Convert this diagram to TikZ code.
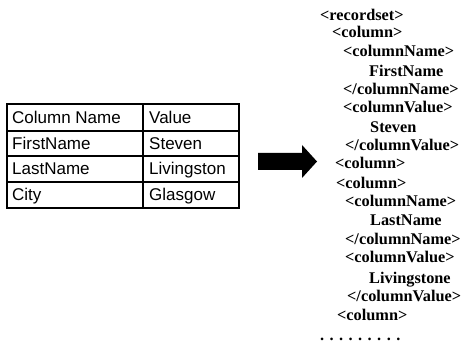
\documentclass[tikz,border=0pt]{standalone}
\usepackage{fontspec}
\setmainfont{Liberation Serif}
\newfontfamily\tabfont{Liberation Sans}
\begin{document}
\begin{tikzpicture}[x=1pt,y=1pt,
  cell/.style={anchor=base west,inner sep=0pt,font=\tabfont\fontsize{17}{17}\selectfont},
  xml/.style={anchor=base west,inner sep=0pt,font=\bfseries\fontsize{16.3}{16.3}\selectfont},
  grid/.style={line width=1.3pt,black}]
\useasboundingbox (0,0) rectangle (463,359);
% table
\draw[grid] (7,255) rectangle (239,151);
\draw[grid] (143,255) -- (143,151);
\draw[grid] (7,228) -- (239,228);
\draw[grid] (7,203) -- (239,203);
\draw[grid] (7,177) -- (239,177);
\node[cell] (h1) at (12,235.5) {Column Name};
\node[cell] (h2) at (149,235.5) {Value};
\node[cell] (r1a) at (12,209.5) {FirstName};
\node[cell] (r1b) at (149,209.5) {Steven};
\node[cell] (r2a) at (12,184) {LastName};
\node[cell] (r2b) at (149,184) {Livingston};
\node[cell] (r3a) at (12,158) {City};
\node[cell] (r3b) at (149,158) {Glasgow};
% arrow
\fill[black] (258,206) -- (302,206) -- (302,214) -- (317,197.5) -- (302,181) -- (302,189) -- (258,189) -- cycle;
% xml
\node[xml] (x1) at (320,338) {<recordset>};
\node[xml] (x2) at (332,321) {<column>};
\node[xml] (x3) at (343,302) {<columnName>};
\node[xml] (x4) at (369,282) {FirstName};
\node[xml] (x5) at (343,264) {</columnName>};
\node[xml] (x6) at (343,246) {<columnValue>};
\node[xml] (x7) at (370,226) {Steven};
\node[xml] (x8) at (345,208) {</columnValue>};
\node[xml] (x9) at (335,190) {<column>};
\node[xml] (x10) at (336,170) {<column>};
\node[xml] (x11) at (345,152) {<columnName>};
\node[xml] (x12) at (370,133) {LastName};
\node[xml] (x13) at (345,114) {</columnName>};
\node[xml] (x14) at (345,96) {<columnValue>};
\node[xml] (x15) at (369,76) {Livingstone};
\node[xml] (x16) at (347,58) {</columnValue>};
\node[xml] (x17) at (337,39) {<column>};
\node[xml] (x18) at (320,19) {. . . . . . . . .};
\end{tikzpicture}
\end{document}
